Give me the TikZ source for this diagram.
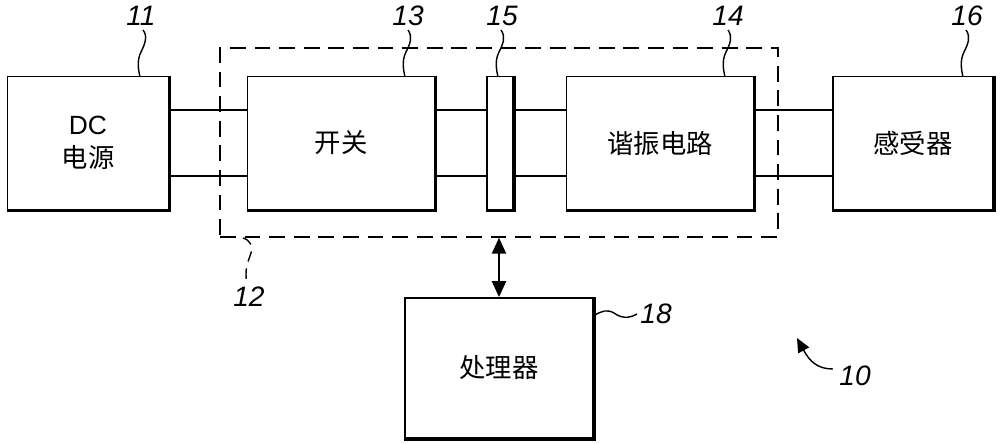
\documentclass[tikz,border=0pt]{standalone}
\usepackage{fontspec}
\setmainfont{Liberation Sans}
\newfontfamily\cjk{Noto Sans CJK SC}
\usetikzlibrary{arrows.meta}
\begin{document}
\begin{tikzpicture}[x=0.02cm,y=-0.02cm,
  blk/.style={draw,line width=1.1pt,inner sep=0pt,minimum height=2.66cm,font=\cjk\fontsize{15}{19}\selectfont,align=center},
  wire/.style={line width=0.85pt},
  lead/.style={line width=0.8pt},
  num/.style={font=\itshape\fontsize{16}{18}\selectfont,inner sep=1pt}]
\useasboundingbox (0,0) rectangle (1000,443);
% blocks
\node[blk,minimum width=3.22cm] (dc) at (88,143) {{\fontspec{Liberation Sans}DC}\\电源};
\node[blk,minimum width=3.74cm] (sw) at (341,143) {开关};
\node[blk,minimum width=0.52cm] (b15) at (500,143) {};
\node[blk,minimum width=3.74cm] (res) at (660,143) {谐振电路};
\node[blk,minimum width=3.2cm] (sen) at (913,143) {感受器};
\node[blk,minimum width=3.76cm,minimum height=2.8cm] (proc) at (499,368) {处理器};
\node[draw,dashed,line width=0.9pt,dash pattern=on 9pt off 5pt,inner sep=0pt,minimum width=11.16cm,minimum height=3.78cm] (grp) at (499,142.5) {};
% shadows
\foreach \b in {dc,sw,b15,res,sen,proc}
  \draw[line width=1.8pt] (\b.north east) -- (\b.south east) -- (\b.south west);
% wires
\foreach \a/\c in {dc/sw,sw/b15,b15/res,res/sen}{
  \draw[wire] ([yshift=0.66cm]\a.east) -- ([yshift=0.66cm]\c.west);
  \draw[wire] ([yshift=-0.66cm]\a.east) -- ([yshift=-0.66cm]\c.west);
}
% bus arrow
\draw[line width=1pt,{Triangle[length=9pt,width=8pt]}-{Triangle[length=9pt,width=8pt]}] (proc.north |- grp.south) -- (proc.north);
% labels
\node[num] (l11) at (141,16) {11};
\node[num] (l13) at (408,16) {13};
\node[num] (l15) at (502,16) {15};
\node[num] (l14) at (728,16) {14};
\node[num] (l16) at (967,16) {16};
\node[num] (l12) at (249,297) {12};
\node[num] (l18) at (656,314) {18};
\node[num] (l10) at (855,376) {10};
% leader end points
\coordinate (t11) at (140,77);
\coordinate (t13) at (405,77);
\coordinate (t15) at (498,77);
\coordinate (t14) at (725,77);
\coordinate (t16) at (963,77);
\coordinate (t12) at (243,238);
\coordinate (t18) at (595,315);
\coordinate (t10) at (797,338);
\coordinate (s10) at (833,369);
% leaders
\draw[lead] (t11) .. controls (138,68) and (137,60) .. (141,52) .. controls (145,44) and (148,36) .. (143,30);
\draw[lead] (t13) .. controls (403,68) and (402,60) .. (406,52) .. controls (410,44) and (413,37) .. (408,30);
\draw[lead] (t15) .. controls (496,68) and (495,60) .. (499,52) .. controls (503,44) and (506,37) .. (501,30);
\draw[lead] (t14) .. controls (723,68) and (722,60) .. (726,52) .. controls (730,44) and (733,37) .. (728,30);
\draw[lead] (t16) .. controls (961,68) and (960,60) .. (964,52) .. controls (968,44) and (971,37) .. (966,30);
\draw[lead,dashed,dash pattern=on 6pt off 4pt] (t12) .. controls (250,240) and (254,246) .. (250,256) .. controls (246,266) and (245,274) .. (247,284);
\draw[lead] (t18) .. controls (602,311) and (607,309) .. (614,313) .. controls (621,318) and (628,319) .. (637,314);
\draw[lead,-{Triangle[length=8pt,width=7pt]}] (s10) .. controls (818,369) and (810,362) .. (t10);
\end{tikzpicture}
\end{document}
